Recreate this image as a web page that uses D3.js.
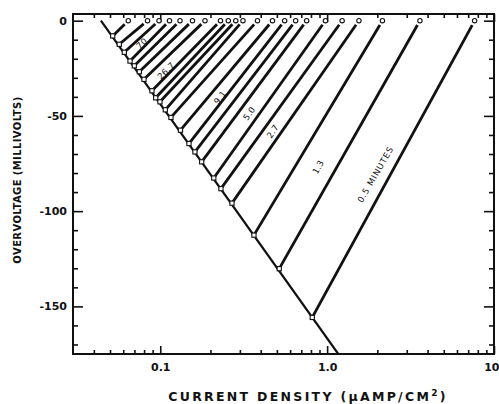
<!DOCTYPE html>
<html>
<head>
<meta charset="utf-8">
<script src="https://cdn.jsdelivr.net/npm/d3@7"></script>
<style>
  html, body { margin: 0; padding: 0; background: #fff; }
  svg { display: block; }
  text { font-family: "DejaVu Sans", "Liberation Sans", sans-serif; fill: #111; }
</style>
</head>
<body>
<svg id="chart" width="499" height="404"></svg>
<script>
// Current density (µA/cm²) at zero overvoltage for each transient run
const topCurrent = [0.0643, 0.0839, 0.0983, 0.1136, 0.1313, 0.156, 0.1854, 0.2296,
  0.2557, 0.2835, 0.3131, 0.3824, 0.4704, 0.5565, 0.6477, 0.7539,
  0.977, 1.23, 1.551, 2.145, 3.599, 7.654];

// Where each run meets the Tafel line: current density and overvoltage (mV)
const endCurrent = [0.0519, 0.0568, 0.0609, 0.0659, 0.0699, 0.0749, 0.0799, 0.0892,
  0.0939, 0.0996, 0.1072, 0.1159, 0.1322, 0.1486, 0.1614, 0.1771,
  0.2093, 0.2311, 0.2691, 0.3643, 0.5166, 0.8145];
const endVoltage = [-8.0, -12.4, -16.6, -21.2, -23.7, -26.8, -30.8, -36.8,
  -40.5, -42.6, -46.8, -50.8, -57.5, -64.5, -68.9, -74.1,
  -82.6, -88.2, -95.8, -112.6, -130.2, -155.8];

// Steady-state Tafel line
const tafelCurrent = [0.0441, 1.166];
const tafelVoltage = [0, -175];

// Time labels (minutes) along the runs
const curveLabels = ["70", "26.7", "9.1", "5.0", "2.7", "1.3", "0.5 MINUTES"];
const labelCurrent = [0.0774, 0.1082, 0.228, 0.3416, 0.4718, 0.8848, 1.948];
const labelVoltage = [-11.9, -26.3, -40.3, -48.7, -58.1, -76.8, -80.7];

// Axis ticks
const yTickValues = [0, -50, -100, -150];
const yTickLabels = ["0", "-50", "-100", "-150"];
const yMinorValues = [-10, -20, -30, -40, -60, -70, -80, -90, -110, -120, -130, -140, -160, -170];
const xTickValues = [0.1, 1, 10];
const xTickLabels = ["0.1", "1.0", "10"];
const xMinorValues = [0.04, 0.05, 0.06, 0.07, 0.08, 0.09, 0.2, 0.3, 0.4, 0.5, 0.6, 0.7, 0.8, 0.9,
  2, 3, 4, 5, 6, 7, 8, 9];

const xTitle = "CURRENT DENSITY (\u00B5AMP/CM";
const yTitle = "OVERVOLTAGE (MILLIVOLTS)";

// ---- layout ----
const plot = { left: 73, right: 494, top: 14, bottom: 354 };
const labelAngle = [-42, -45, -52, -55, -56, -60, -60];
const tickFont = '"Liberation Sans", Arial, sans-serif';

const svg = d3.select("#chart");

const x = d3.scaleLog().domain([0.03, 10]).range([plot.left, plot.right]);
const y = d3.scaleLinear().domain([-175, 3.5]).range([plot.bottom, plot.top]);

function styleAxis(g) {
  g.select(".domain").remove();
  g.selectAll(".tick line").attr("stroke", "#111").attr("stroke-width", 1.6);
  g.selectAll(".tick text").attr("fill", "#111");
}

// bottom axis: major ticks with labels, minor ticks
svg.append("g")
  .attr("transform", `translate(0,${plot.bottom})`)
  .call(d3.axisBottom(x).tickValues(xTickValues).tickSize(-8).tickPadding(9)
    .tickFormat((d, i) => xTickLabels[i]))
  .call(styleAxis)
  .call(g => g.selectAll(".tick text")
    .attr("font-size", 11).attr("font-weight", "bold").attr("font-family", tickFont)
    .filter(d => d === 10).attr("text-anchor", "end").attr("dx", 5));
svg.append("g")
  .attr("transform", `translate(0,${plot.bottom})`)
  .call(d3.axisBottom(x).tickValues(xMinorValues).tickSize(-4).tickFormat(""))
  .call(styleAxis);

// top axis mirrors the bottom one
svg.append("g")
  .attr("transform", `translate(0,${plot.top})`)
  .call(d3.axisTop(x).tickValues(xTickValues).tickSize(-8).tickFormat(""))
  .call(styleAxis);
svg.append("g")
  .attr("transform", `translate(0,${plot.top})`)
  .call(d3.axisTop(x).tickValues(xMinorValues).tickSize(-4).tickFormat(""))
  .call(styleAxis);

// left axis
svg.append("g")
  .attr("transform", `translate(${plot.left},0)`)
  .call(d3.axisLeft(y).tickValues(yTickValues).tickSize(-10).tickPadding(6)
    .tickFormat((d, i) => yTickLabels[i]))
  .call(styleAxis)
  .call(g => g.selectAll(".tick text")
    .attr("font-size", 11).attr("font-weight", "bold").attr("font-family", tickFont));
svg.append("g")
  .attr("transform", `translate(${plot.left},0)`)
  .call(d3.axisLeft(y).tickValues(yMinorValues).tickSize(-5).tickFormat(""))
  .call(styleAxis);

// right axis
svg.append("g")
  .attr("transform", `translate(${plot.right},0)`)
  .call(d3.axisRight(y).tickValues(yTickValues).tickSize(-10).tickFormat(""))
  .call(styleAxis);
svg.append("g")
  .attr("transform", `translate(${plot.right},0)`)
  .call(d3.axisRight(y).tickValues(yMinorValues).tickSize(-5).tickFormat(""))
  .call(styleAxis);

// frame
svg.append("rect")
  .attr("x", plot.left).attr("y", plot.top)
  .attr("width", plot.right - plot.left).attr("height", plot.bottom - plot.top)
  .attr("fill", "none").attr("stroke", "#111").attr("stroke-width", 2);

// clip for data marks
svg.append("clipPath").attr("id", "plot-clip")
  .append("rect")
  .attr("x", plot.left).attr("y", plot.top)
  .attr("width", plot.right - plot.left).attr("height", plot.bottom - plot.top);

const marks = svg.append("g").attr("clip-path", "url(#plot-clip)");

// Tafel line
marks.append("line")
  .attr("x1", x(tafelCurrent[0])).attr("y1", y(tafelVoltage[0]))
  .attr("x2", x(tafelCurrent[1])).attr("y2", y(tafelVoltage[1]))
  .attr("stroke", "#111").attr("stroke-width", 2.2);

// transient runs, each starting a little below its open circle
const runs = topCurrent.map((c, i) => {
  const x0 = x(c), y0 = y(0);
  const x1 = x(endCurrent[i]), y1 = y(endVoltage[i]);
  const len = Math.hypot(x1 - x0, y1 - y0);
  const gap = 5;
  return {
    x0: x0 + (x1 - x0) * gap / len, y0: y0 + (y1 - y0) * gap / len,
    x1, y1
  };
});

marks.selectAll("line.run")
  .data(runs)
  .join("line")
  .attr("class", "run")
  .attr("x1", d => d.x0).attr("y1", d => d.y0)
  .attr("x2", d => d.x1).attr("y2", d => d.y1)
  .attr("stroke", "#111").attr("stroke-width", 2.8);

// open circles at zero overvoltage
svg.selectAll("circle.start")
  .data(topCurrent)
  .join("circle")
  .attr("class", "start")
  .attr("cx", d => x(d)).attr("cy", y(0)).attr("r", 2.2)
  .attr("fill", "#fff").attr("stroke", "#111").attr("stroke-width", 1.1);

// open squares on the Tafel line
const sq = 4.2;
svg.selectAll("rect.end")
  .data(endCurrent)
  .join("rect")
  .attr("class", "end")
  .attr("x", d => x(d) - sq / 2)
  .attr("y", (d, i) => y(endVoltage[i]) - sq / 2)
  .attr("width", sq).attr("height", sq)
  .attr("fill", "#fff").attr("stroke", "#111").attr("stroke-width", 1.1);

// time labels
svg.selectAll("text.curve")
  .data(curveLabels)
  .join("text")
  .attr("class", "curve")
  .attr("transform", (d, i) =>
    `translate(${x(labelCurrent[i])},${y(labelVoltage[i])}) rotate(${labelAngle[i]})`)
  .attr("text-anchor", "middle")
  .attr("dominant-baseline", "central")
  .attr("font-size", 8.5)
  .attr("letter-spacing", (d, i) => i === curveLabels.length - 1 ? 0.8 : 0.3)
  .text(d => d);

// axis titles
const xt = svg.append("text")
  .attr("x", 308)
  .attr("y", 401)
  .attr("text-anchor", "middle")
  .attr("font-size", 12.5)
  .attr("font-weight", "bold")
  .attr("letter-spacing", 2.3);
xt.append("tspan").text(xTitle);
xt.append("tspan").attr("dy", -5).attr("font-size", 9).text("2");
xt.append("tspan").attr("dy", 5).text(")");

svg.append("text")
  .attr("transform", `translate(21,180) rotate(-90)`)
  .attr("text-anchor", "middle")
  .attr("font-size", 10)
  .attr("font-weight", "bold")
  .attr("letter-spacing", 0.4)
  .text(yTitle);
</script>
</body>
</html>
